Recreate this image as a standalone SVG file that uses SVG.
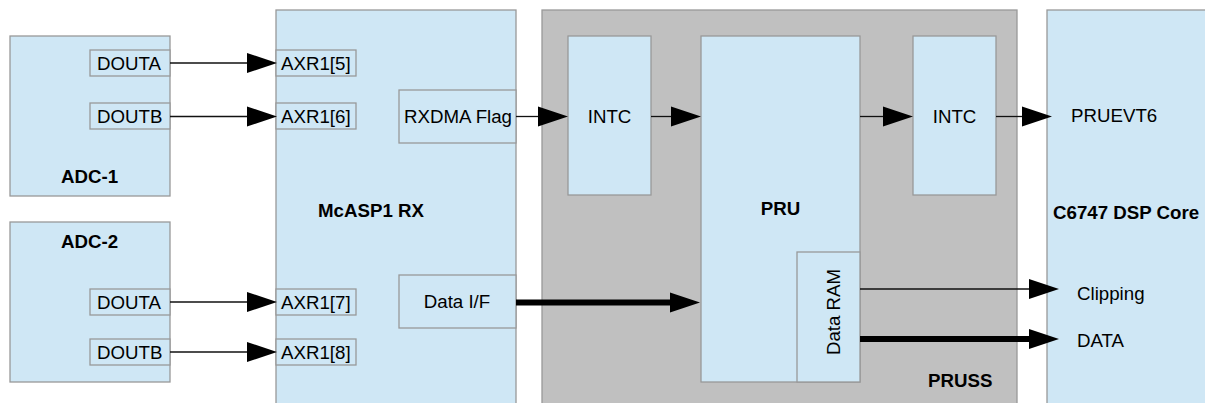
<svg xmlns="http://www.w3.org/2000/svg" width="1205" height="403" viewBox="0 0 1205 403">
<style>
.blk{fill:#cfe7f5;stroke:#999999;stroke-width:1.3}
.gry{fill:#c0c0c0;stroke:#999999;stroke-width:1.3}
.t{font-family:"Liberation Sans",Arial,sans-serif;font-size:18.7px;fill:#000}
.b{font-family:"Liberation Sans",Arial,sans-serif;font-size:18.7px;font-weight:bold;fill:#000}
.thin{stroke:#111;stroke-width:1.3;fill:none}
.thick{stroke:#000;stroke-width:6;fill:none}
</style>
<defs>
<marker id="ah" markerUnits="userSpaceOnUse" markerWidth="30" markerHeight="20" refX="0" refY="10" orient="auto" overflow="visible">
<path d="M0,0 L30,10 L0,20 Z" fill="#000"/>
</marker>
</defs>
<rect width="1205" height="403" fill="#fff"/>
<g id="pruss">
<rect class="gry" x="542" y="10" width="475" height="420"/>
<text class="b" x="928" y="387">PRUSS</text>
</g>
<g id="adc1">
<rect class="blk" x="10" y="36" width="160" height="160"/>
<text class="b" x="61" y="183">ADC-1</text>
</g>
<g id="adc1-douta">
<rect class="blk" x="90" y="50" width="80" height="26"/>
<text class="t" x="97" y="69.5">DOUTA</text>
</g>
<g id="adc1-doutb">
<rect class="blk" x="90" y="103" width="80" height="26"/>
<text class="t" x="97" y="122.5">DOUTB</text>
</g>
<g id="adc2">
<rect class="blk" x="10" y="222" width="160" height="160"/>
<text class="b" x="61" y="248">ADC-2</text>
</g>
<g id="adc2-douta">
<rect class="blk" x="90" y="289" width="80" height="26"/>
<text class="t" x="97" y="308.5">DOUTA</text>
</g>
<g id="adc2-doutb">
<rect class="blk" x="90" y="339" width="80" height="26"/>
<text class="t" x="97" y="358.5">DOUTB</text>
</g>
<g id="mcasp">
<rect class="blk" x="276" y="10" width="240" height="420"/>
<text class="b" x="371" y="217" text-anchor="middle">McASP1 RX</text>
</g>
<g id="axr5">
<rect class="blk" x="276" y="50" width="80" height="26"/>
<text class="t" x="281" y="69.5">AXR1[5]</text>
</g>
<g id="axr6">
<rect class="blk" x="276" y="103" width="80" height="26"/>
<text class="t" x="281" y="122.5">AXR1[6]</text>
</g>
<g id="axr7">
<rect class="blk" x="276" y="289" width="80" height="26"/>
<text class="t" x="281" y="308.5">AXR1[7]</text>
</g>
<g id="axr8">
<rect class="blk" x="276" y="339" width="80" height="26"/>
<text class="t" x="281" y="358.5">AXR1[8]</text>
</g>
<g id="rxdma">
<rect class="blk" x="399" y="90" width="117" height="53"/>
<text class="t" x="404" y="123">RXDMA Flag</text>
</g>
<g id="dataif">
<rect class="blk" x="399" y="275" width="117" height="53"/>
<text class="t" x="457" y="308" text-anchor="middle">Data I/F</text>
</g>
<g id="intc1">
<rect class="blk" x="568" y="36" width="83" height="159"/>
<text class="t" x="609.5" y="123" text-anchor="middle">INTC</text>
</g>
<g id="pru">
<rect class="blk" x="701" y="36" width="159" height="346"/>
<text class="b" x="780.5" y="215" text-anchor="middle">PRU</text>
</g>
<g id="dataram">
<rect class="blk" x="797" y="252" width="63" height="130"/>
<text class="t" x="0" y="0" text-anchor="middle" transform="translate(839.5,312) rotate(-90)">Data RAM</text>
</g>
<g id="intc2">
<rect class="blk" x="913" y="36" width="83" height="159"/>
<text class="t" x="954.5" y="123" text-anchor="middle">INTC</text>
</g>
<g id="dsp">
<rect class="blk" x="1047" y="10" width="200" height="420"/>
<text class="b" x="1053" y="219">C6747 DSP Core</text>
<text class="t" x="1071" y="122">PRUEVT6</text>
<text class="t" x="1077" y="300">Clipping</text>
<text class="t" x="1077" y="347">DATA</text>
</g>
<g id="connectors">
<line class="thin" x1="170" y1="63" x2="247" y2="63" marker-end="url(#ah)"/>
<line class="thin" x1="170" y1="116.5" x2="247" y2="116.5" marker-end="url(#ah)"/>
<line class="thin" x1="170" y1="302" x2="247" y2="302" marker-end="url(#ah)"/>
<line class="thin" x1="170" y1="352" x2="247" y2="352" marker-end="url(#ah)"/>
<line class="thin" x1="516" y1="116.5" x2="538" y2="116.5" marker-end="url(#ah)"/>
<line class="thin" x1="651" y1="116.5" x2="671" y2="116.5" marker-end="url(#ah)"/>
<line class="thin" x1="860" y1="116.5" x2="883" y2="116.5" marker-end="url(#ah)"/>
<line class="thin" x1="996" y1="116.5" x2="1022" y2="116.5" marker-end="url(#ah)"/>
<line class="thin" x1="860" y1="289" x2="1029" y2="289" marker-end="url(#ah)"/>
<line class="thick" x1="516" y1="302.5" x2="671" y2="302.5"/>
<path d="M670,292.5 L700,302.5 L670,312.5 Z" fill="#000"/>
<line class="thick" x1="860" y1="339" x2="1030" y2="339"/>
<path d="M1029,329 L1059,339 L1029,349 Z" fill="#000"/>
</g>
</svg>
